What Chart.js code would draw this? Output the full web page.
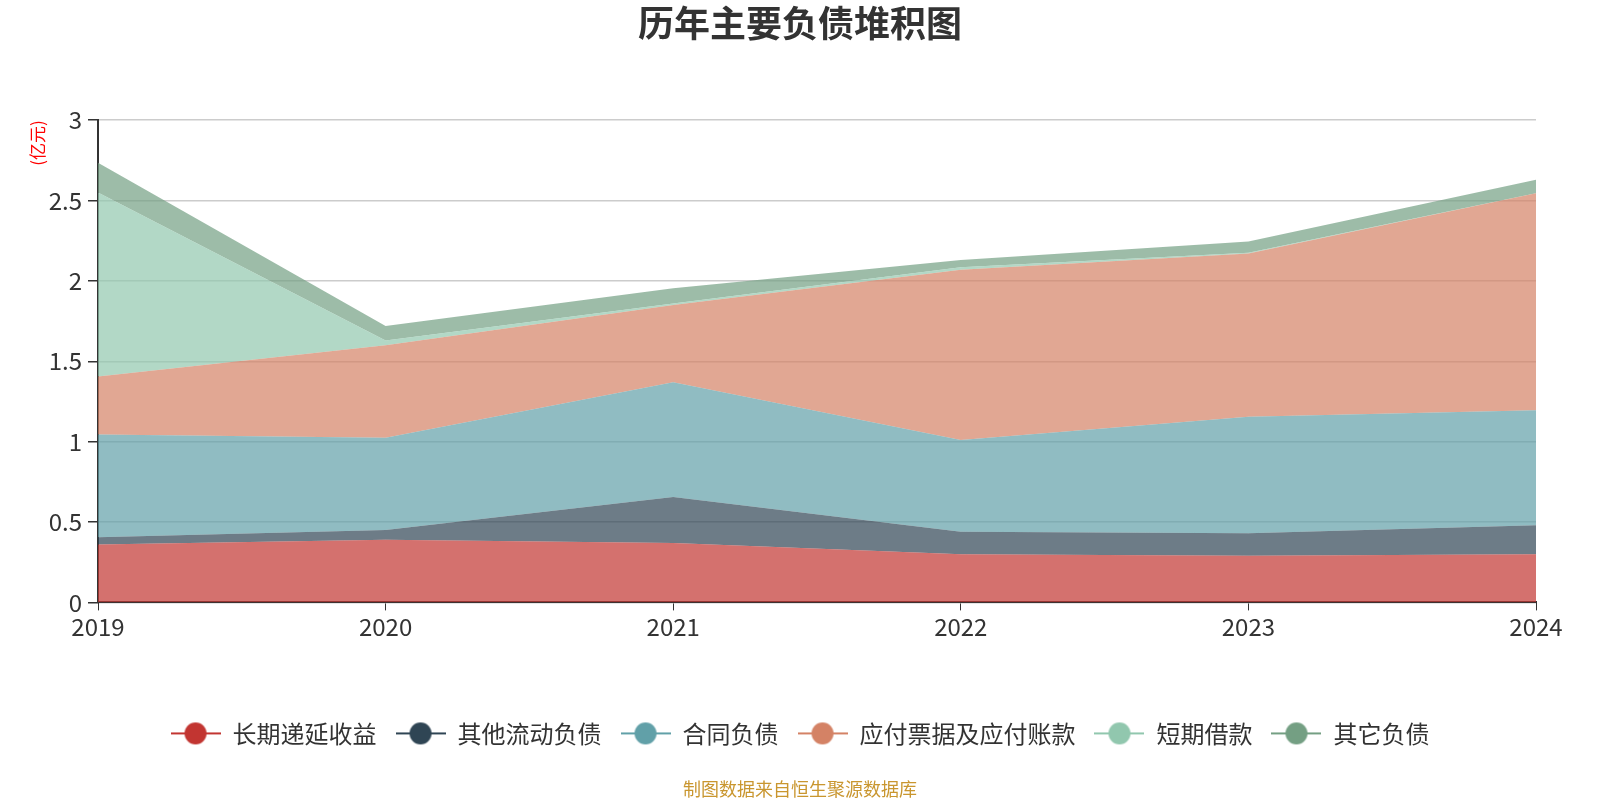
<!DOCTYPE html>
<html>
<head>
<meta charset="utf-8">
<script src="https://cdn.jsdelivr.net/npm/chart.js@4.4.0/dist/chart.umd.min.js"></script>
<style>
  html, body { margin: 0; padding: 0; background: #fff; }
  #wrap { width: 1600px; height: 800px; }
</style>
</head>
<body>
<div id="wrap"><canvas id="chartDebt" width="1600" height="800"></canvas></div>
<script>
const years = ['2019', '2020', '2021', '2022', '2023', '2024'];
const yTickLabels = ['0', '0.5', '1', '1.5', '2', '2.5', '3'];

// 单位：亿元，堆积
const deferredIncome = [0.36, 0.39, 0.37, 0.30, 0.29, 0.30];     // 长期递延收益
const otherCurrent = [0.045, 0.06, 0.285, 0.14, 0.14, 0.18];     // 其他流动负债
const contractLiab = [0.64, 0.575, 0.715, 0.57, 0.725, 0.715];   // 合同负债
const payables = [0.36, 0.575, 0.48, 1.06, 1.015, 1.35];         // 应付票据及应付账款
const shortLoans = [1.145, 0.03, 0.01, 0.015, 0.005, 0];         // 短期借款
const otherLiab = [0.185, 0.09, 0.095, 0.045, 0.07, 0.085];      // 其它负债

const font = '"Noto Sans CJK SC", "Noto Sans", sans-serif';

function legendIcon(color) {
  const c = document.createElement('canvas');
  c.width = 50;
  c.height = 24;
  const g = c.getContext('2d');
  g.strokeStyle = color;
  g.lineWidth = 2;
  g.beginPath();
  g.moveTo(0, 12);
  g.lineTo(50, 12);
  g.stroke();
  g.fillStyle = color;
  g.beginPath();
  g.arc(25, 12, 11, 0, Math.PI * 2);
  g.fill();
  return c;
}

function hexA(hex, a) {
  const n = parseInt(hex.slice(1), 16);
  return 'rgba(' + (n >> 16) + ',' + ((n >> 8) & 255) + ',' + (n & 255) + ',' + a + ')';
}

const series = [
  { label: '长期递延收益', data: deferredIncome, color: '#c23531' },
  { label: '其他流动负债', data: otherCurrent, color: '#2f4554' },
  { label: '合同负债', data: contractLiab, color: '#61a0a8' },
  { label: '应付票据及应付账款', data: payables, color: '#d48265' },
  { label: '短期借款', data: shortLoans, color: '#91c7ae' },
  { label: '其它负债', data: otherLiab, color: '#749f83' }
];

const ctx = document.getElementById('chartDebt');

new Chart(ctx, {
  type: 'line',
  data: {
    labels: years,
    datasets: series.map((s, i) => ({
      label: s.label,
      data: s.data,
      fill: i === 0 ? 'origin' : '-1',
      backgroundColor: hexA(s.color, 0.7),
      borderColor: hexA(s.color, 0.7),
      borderWidth: 0,
      pointRadius: 0,
      pointStyle: legendIcon(s.color),
      tension: 0
    }))
  },
  options: {
    responsive: false,
    animation: false,
    layout: { padding: 0 },
    scales: {
      x: {
        offset: false,
        grid: { drawOnChartArea: false, drawTicks: true, tickLength: 8, tickColor: '#333' },
        border: { display: true, color: '#333', width: 2 },
        ticks: { color: '#333', font: { family: font, size: 24 }, padding: 2, maxRotation: 0 },
        afterFit: (scale) => { scale.height = 100; }
      },
      y: {
        stacked: true,
        min: 0,
        max: 3,
        grid: { color: '#ccc', lineWidth: 1.5, tickLength: 10, tickColor: '#333' },
        border: { display: true, color: '#333', width: 2 },
        ticks: {
          stepSize: 0.5,
          color: '#333',
          padding: 6,
          font: { family: font, size: 24 },
          callback: (v, i) => yTickLabels[i]
        },
        title: {
          display: true,
          text: '(亿元)',
          color: '#ff0000',
          align: 'end',
          font: { family: font, size: 17 },
          padding: { top: 27, bottom: 0 }
        },
        afterFit: (scale) => { scale.width = 98; }
      },
      // empty right-hand spacer so the plot ends at 2024 while title/legend stay centred
      spacer: {
        type: 'linear',
        position: 'right',
        display: true,
        grid: { display: false, drawTicks: false },
        border: { display: false },
        ticks: { display: false },
        afterFit: (scale) => { scale.width = 64; }
      }
    },
    plugins: {
      title: {
        display: true,
        text: '历年主要负债堆积图',
        color: '#333',
        font: { family: font, size: 36, weight: 'bold' },
        padding: { top: 2, bottom: 75 }
      },
      subtitle: {
        display: true,
        position: 'bottom',
        text: '制图数据来自恒生聚源数据库',
        color: '#c9962f',
        font: { family: font, size: 18 },
        padding: { top: 23, bottom: 0 }
      },
      legend: {
        display: true,
        position: 'bottom',
        labels: {
          usePointStyle: true,
          pointStyleWidth: 50,
          boxHeight: 24,
          padding: 19,
          color: '#333',
          font: { family: font, size: 24 }
        }
      },
      tooltip: { enabled: false }
    }
  }
});
</script>
</body>
</html>
